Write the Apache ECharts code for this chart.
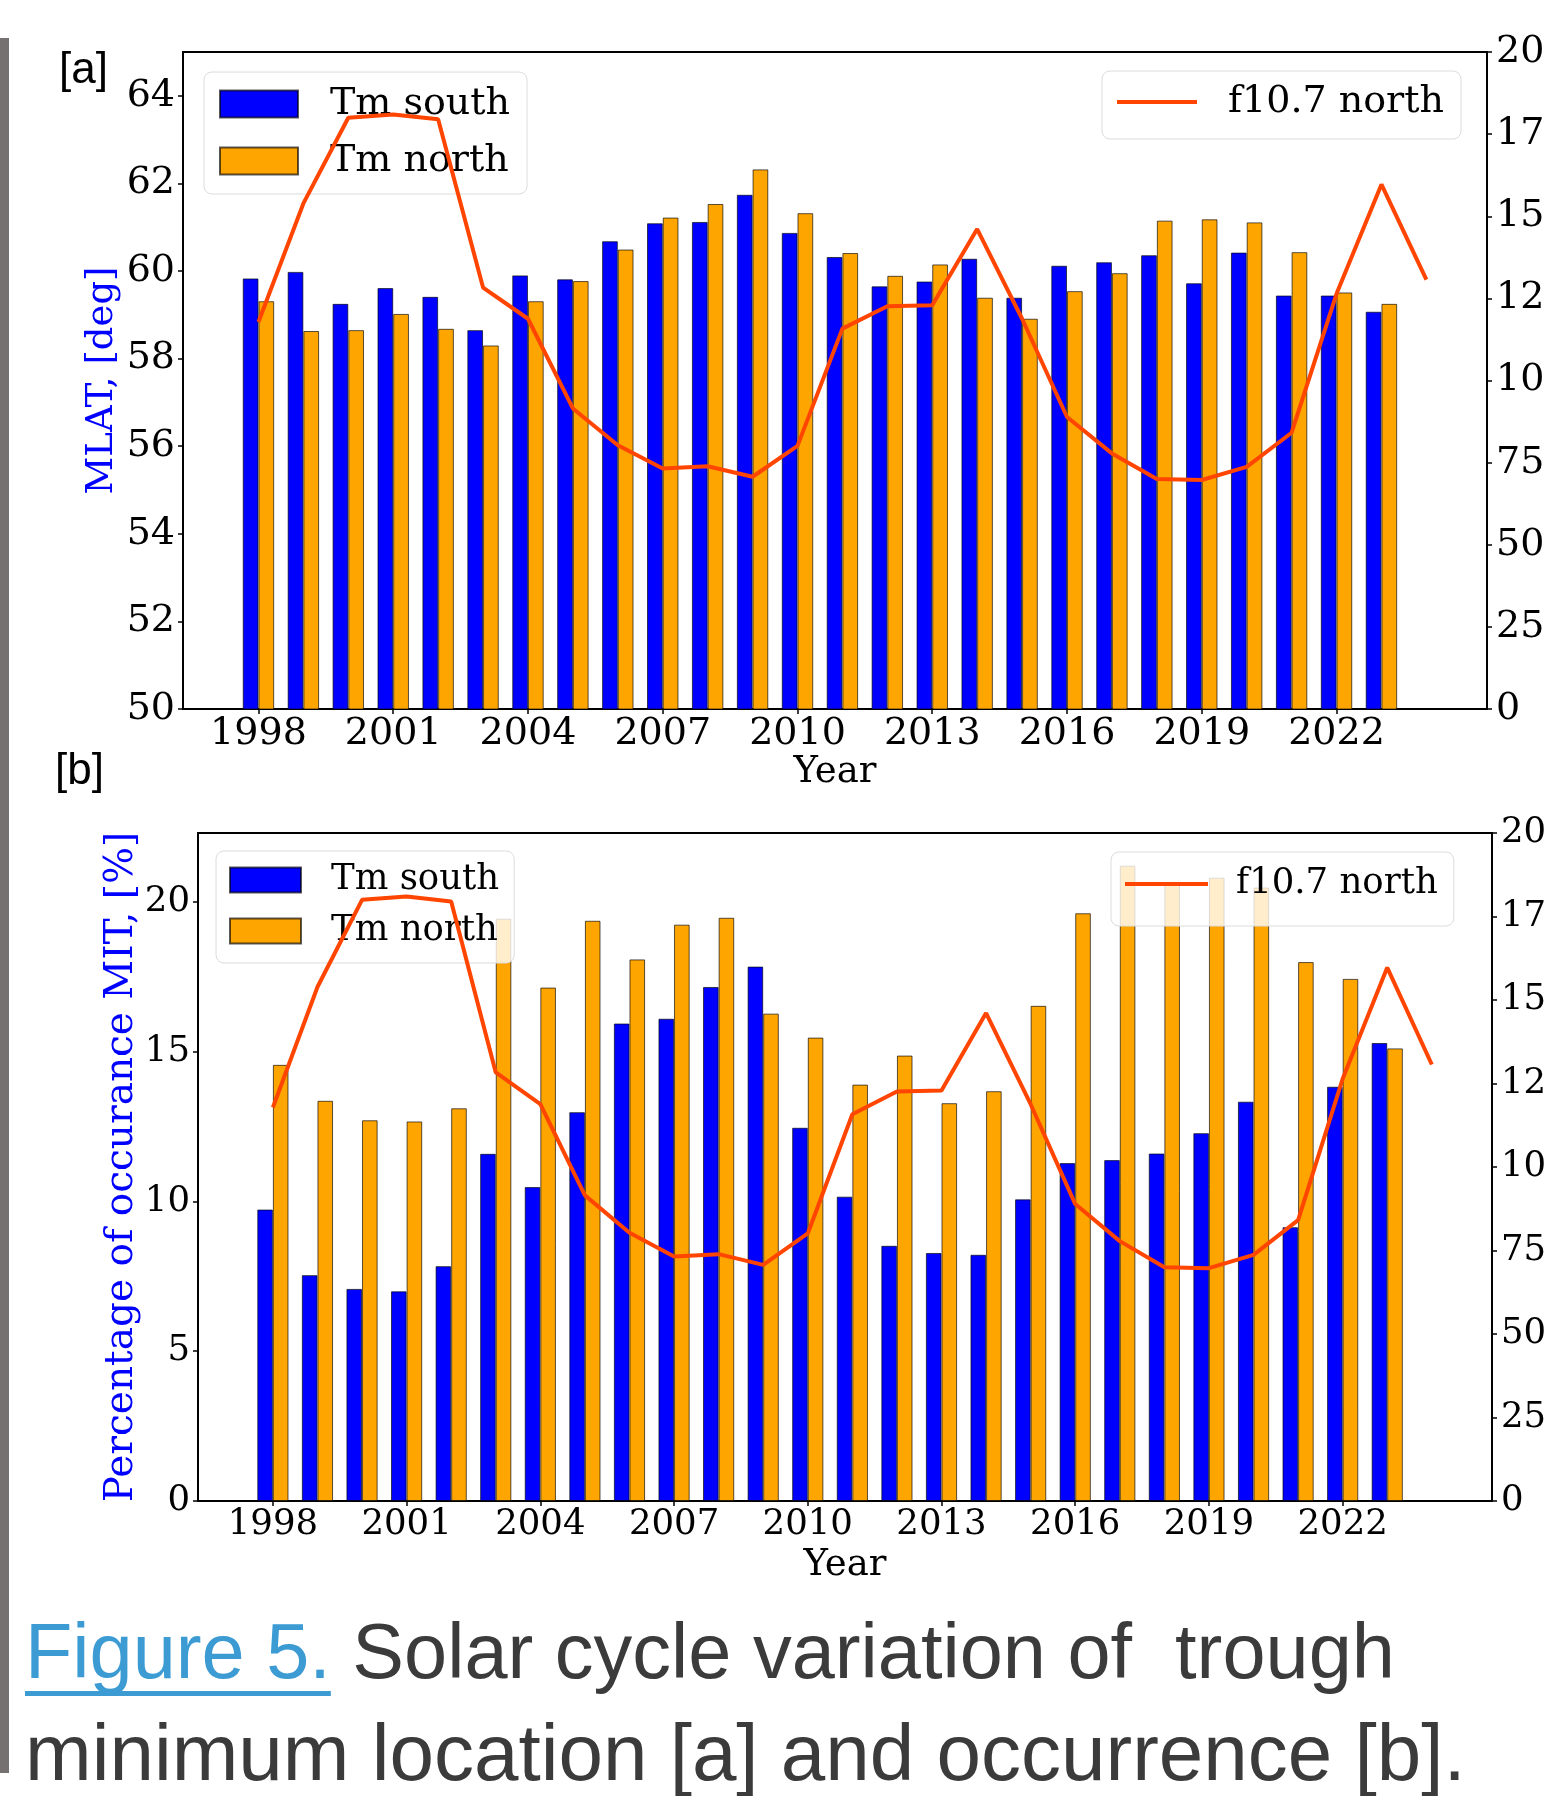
<!DOCTYPE html>
<html>
<head>
<meta charset="utf-8">
<title>Figure 5</title>
<script src="https://cdn.jsdelivr.net/npm/echarts@6.0.0/dist/echarts.min.js"></script>
<style>
  html, body { margin: 0; padding: 0; background: #fff; }
  #main { width: 1545px; height: 1796px; }
</style>
</head>
<body>
<div id="main"></div>
<script>
// data
var years = [1998, 1999, 2000, 2001, 2002, 2003, 2004, 2005, 2006, 2007, 2008, 2009, 2010,
             2011, 2012, 2013, 2014, 2015, 2016, 2017, 2018, 2019, 2020, 2021, 2022, 2023];
var fluxYears = [1998, 1999, 2000, 2001, 2002, 2003, 2004, 2005, 2006, 2007, 2008, 2009, 2010,
                 2011, 2012, 2013, 2014, 2015, 2016, 2017, 2018, 2019, 2020, 2021, 2022, 2023, 2024];
var xTicks = [1998, 2001, 2004, 2007, 2010, 2013, 2016, 2019, 2022];
var latTicks = [50, 52, 54, 56, 58, 60, 62, 64];
var occTicks = [0, 5, 10, 15, 20];

// [a] trough minimum MLAT
var southLat = [59.83, 59.98, 59.25, 59.61, 59.41, 58.65, 59.90, 59.81, 60.68, 61.09, 61.12, 61.74, 60.87,
                60.32, 59.65, 59.76, 60.28, 59.39, 60.12, 60.20, 60.36, 59.72, 60.42, 59.44, 59.44, 59.07];
var northLat = [59.31, 58.63, 58.65, 59.02, 58.68, 58.30, 59.31, 59.77, 60.49, 61.22, 61.53, 62.32, 61.32,
                60.41, 59.89, 60.15, 59.39, 58.91, 59.54, 59.95, 61.15, 61.18, 61.11, 60.43, 59.51, 59.25];

// [b] occurrence %
var southOcc = [9.73, 7.54, 7.08, 7.00, 7.84, 11.59, 10.48, 12.98, 15.94, 16.10, 17.16, 17.84, 12.46,
                10.16, 8.52, 8.28, 8.22, 10.07, 11.28, 11.38, 11.60, 12.28, 13.33, 9.14, 13.83, 15.29];
var northOcc = [14.56, 13.36, 12.71, 12.67, 13.11, 19.44, 17.14, 19.37, 18.08, 19.24, 19.47, 16.27, 15.47,
                13.90, 14.87, 13.28, 13.68, 16.53, 19.62, 21.21, 20.65, 20.81, 20.48, 17.99, 17.43, 15.11];

// f10.7 (same curve on both panels)
var f107 = [117.8, 153.9, 180.0, 181.0, 179.5, 128.3, 118.8, 91.5, 80.3, 73.2, 73.9, 70.7, 80.1,
            115.8, 122.6, 122.9, 146.1, 118.8, 88.9, 77.8, 70.0, 69.7, 73.7, 84.1, 126.4, 159.7, 130.7];

var BLUE = '#0000ff', ORANGE = '#ffa500', RED = '#ff4500';
var SERIF = 'DejaVu Serif';
var X_MIN = 1996.32, X_MAX = 2025.35;

function pairs(xs, ys) {
    return xs.map(function (x, i) { return [x, ys[i]]; });
}

var gridA = { left: 183, top: 52, width: 1304, height: 657 };
var gridB = { left: 198, top: 833, width: 1294, height: 668 };

function barW(grid) {
    return 0.35 * grid.width / (X_MAX - X_MIN);
}

function xAxis(gridIndex, fs, gap) {
    return {
        type: 'value', gridIndex: gridIndex, min: X_MIN, max: X_MAX,
        name: 'Year', nameLocation: 'middle', nameGap: gap,
        nameTextStyle: { color: '#000', fontSize: 37, fontFamily: SERIF },
        axisLine: { show: true, onZero: false, lineStyle: { color: '#000', width: 2 } },
        axisTick: { show: true, length: 5, customValues: xTicks, lineStyle: { color: '#000', width: 1.5 } },
        axisLabel: {
            customValues: xTicks, margin: 6, color: '#000', fontSize: fs, fontFamily: SERIF,
            formatter: function (v) { return String(v); }
        },
        splitLine: { show: false }
    };
}

function leftAxis(gridIndex, fs, name, nameSize, gap, min, max, ticks) {
    return {
        type: 'value', gridIndex: gridIndex, position: 'left', min: min, max: max,
        name: name, nameLocation: 'middle', nameGap: gap, nameMoveOverlap: false,
        nameTextStyle: { color: BLUE, fontSize: nameSize, fontFamily: SERIF },
        axisLine: { show: true, onZero: false, lineStyle: { color: '#000', width: 2 } },
        axisTick: { show: true, length: 5, customValues: ticks, lineStyle: { color: '#000', width: 1.5 } },
        axisLabel: { customValues: ticks, margin: 8, color: '#000', fontSize: fs, fontFamily: SERIF },
        splitLine: { show: false }
    };
}

function rightAxis(gridIndex, fs) {
    return {
        type: 'value', gridIndex: gridIndex, position: 'right', min: 0, max: 200, interval: 25,
        axisLine: { show: true, onZero: false, lineStyle: { color: '#000', width: 2 } },
        axisTick: { show: true, length: 5, lineStyle: { color: '#000', width: 1.5 } },
        axisLabel: { margin: 9, color: '#000', fontSize: fs, fontFamily: SERIF },
        splitLine: { show: false }
    };
}

function bars(name, color, xi, yi, values, w) {
    return {
        name: name, type: 'bar', xAxisIndex: xi, yAxisIndex: yi, z: 1,
        data: pairs(years, values), barWidth: w, barGap: '0%',
        itemStyle: { color: color, borderColor: 'rgba(0,0,0,0.65)', borderWidth: 1 }
    };
}

function fluxLine(xi, yi) {
    return {
        name: 'f10.7 north', type: 'line', xAxisIndex: xi, yAxisIndex: yi, z: 3,
        data: pairs(fluxYears, f107), symbol: 'none',
        lineStyle: { color: RED, width: 4 }, itemStyle: { color: RED }
    };
}

function legend(names, left, top, fs, iw, ih, gap, pad, textPad, bg) {
    return {
        data: names, orient: 'vertical', left: left, top: top, selectedMode: false,
        icon: 'rect', itemWidth: iw, itemHeight: ih, itemGap: gap, padding: pad,
        backgroundColor: bg, borderColor: '#dcdcdc', borderWidth: 1, borderRadius: 8,
        textStyle: { color: '#000', fontSize: fs, fontFamily: SERIF, padding: [0, 0, 0, textPad] },
        z: names.length > 1 ? 2 : 4
    };
}

// caption underline width
var ctx = document.createElement('canvas').getContext('2d');
ctx.font = '77.5px "Liberation Sans"';
var figW = ctx.measureText('Figure 5.').width;

var chart = echarts.init(document.getElementById('main'), null, { renderer: 'canvas' });

var option = {
    animation: false,
    backgroundColor: '#fff',
    grid: [
        Object.assign({ show: true, borderColor: '#000', borderWidth: 2, outerBoundsMode: 'none' }, gridA),
        Object.assign({ show: true, borderColor: '#000', borderWidth: 2, outerBoundsMode: 'none' }, gridB)
    ],
    xAxis: [xAxis(0, 38, 45), xAxis(1, 35.5, 46)],
    yAxis: [
        leftAxis(0, 38, 'MLAT, [deg]', 37, 62, 50, 65, latTicks),
        rightAxis(0, 38),
        leftAxis(1, 35.5, 'Percentage of occurance MIT, [%]', 39, 57, 0, 22.3, occTicks),
        rightAxis(1, 35.5)
    ],
    legend: [
        legend(['Tm south', 'Tm north'], 204, 72, 38, 78, 27, 19, [13, 17, 14, 15], 27, '#fff'),
        legend(['f10.7 north'], 1102, 71, 38, 80, 4, 0, [12, 17, 18, 15], 26, '#fff'),
        legend(['Tm south', 'Tm north'], 216, 851, 35.5, 71, 25, 15, [11, 15, 14, 13], 25, 'rgba(255,255,255,0.8)'),
        legend(['f10.7 north'], 1111, 852, 35.5, 83, 4, 0, [14, 16, 24, 14], 23, 'rgba(255,255,255,0.8)')
    ],
    series: [
        bars('Tm south', BLUE, 0, 0, southLat, barW(gridA)),
        bars('Tm north', ORANGE, 0, 0, northLat, barW(gridA)),
        fluxLine(0, 1),
        bars('Tm south', BLUE, 1, 2, southOcc, barW(gridB)),
        bars('Tm north', ORANGE, 1, 2, northOcc, barW(gridB)),
        fluxLine(1, 3)
    ],
    graphic: [
        { type: 'rect', shape: { x: 0, y: 38, width: 9, height: 1735 }, style: { fill: '#767171' } },
        { type: 'text', x: 59, y: 71, style: { text: '[a]', fontSize: 44, fontFamily: 'Liberation Sans', fill: '#000', verticalAlign: 'middle' } },
        { type: 'text', x: 55, y: 772, style: { text: '[b]', fontSize: 44, fontFamily: 'Liberation Sans', fill: '#000', verticalAlign: 'middle' } },
        {
            type: 'text', x: 25, y: 1657,
            style: {
                text: '{f|Figure 5.} Solar cycle variation of  trough',
                fontSize: 77.5, fontFamily: 'Liberation Sans', fill: '#3b3b3b', verticalAlign: 'middle',
                rich: { f: { fill: '#3d9bd3', fontSize: 77.5, fontFamily: 'Liberation Sans' } }
            }
        },
        { type: 'rect', shape: { x: 25, y: 1691, width: figW, height: 5 }, style: { fill: '#3d9bd3' } },
        {
            type: 'text', x: 25, y: 1758,
            style: {
                text: 'minimum location [a] and occurrence [b].',
                fontSize: 80, fontFamily: 'Liberation Sans', fill: '#3b3b3b', verticalAlign: 'middle'
            }
        }
    ]
};

chart.setOption(option);
</script>
</body>
</html>
